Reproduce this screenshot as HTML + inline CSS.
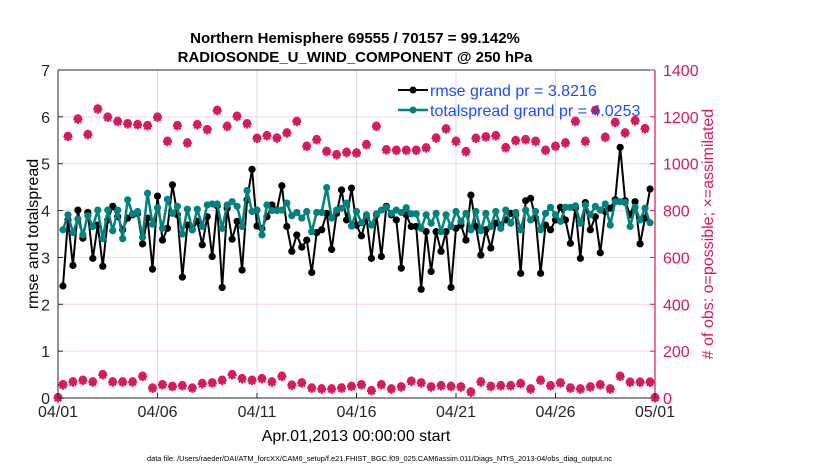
<!DOCTYPE html>
<html><head><meta charset="utf-8">
<style>
html,body{margin:0;padding:0;background:#fff;}
svg{display:block;font-family:"Liberation Sans",Arial,sans-serif;}
</style></head>
<body>
<svg id="chart" width="830" height="470" viewBox="0 0 830 470">
<rect x="0" y="0" width="830" height="470" fill="#fff"/>
<g id="grid"></g>
<g id="series"></g>
<g id="axes"></g>
<text x="355" y="43" text-anchor="middle" font-size="15" font-weight="bold">Northern Hemisphere 69555 / 70157 = 99.142%</text>
<text x="355" y="62" text-anchor="middle" font-size="15" font-weight="bold">RADIOSONDE_U_WIND_COMPONENT @ 250 hPa</text>
<text x="356" y="441" text-anchor="middle" font-size="16">Apr.01,2013 00:00:00 start</text>
<text x="147" y="461" font-size="7" textLength="465" lengthAdjust="spacingAndGlyphs">data file: /Users/raeder/DAI/ATM_forcXX/CAM6_setup/f.e21.FHIST_BGC.f09_025.CAM6assim.011/Diags_NTrS_2013-04/obs_diag_output.nc</text>
<text transform="translate(38,234) rotate(-90)" text-anchor="middle" font-size="16">rmse and totalspread</text>
<text transform="translate(713,234) rotate(-90)" text-anchor="middle" font-size="16" fill="#d6185c"># of obs: o=possible; ×=assimilated</text>
<g>
<line x1="398" y1="90" x2="428" y2="90" stroke="#000" stroke-width="2"/>
<circle cx="413" cy="90" r="3.5" fill="#000"/>
<text x="430" y="96" font-size="16" fill="#1a4dff">rmse grand pr = 3.8216</text>
<line x1="398" y1="110" x2="428" y2="110" stroke="#00827f" stroke-width="2.5"/>
<circle cx="413" cy="110" r="3.5" fill="#00827f"/>
<text x="430" y="116" font-size="16" fill="#1a4dff">totalspread grand pr = 4.0253</text>
</g>
</svg>
<script>
// ---- data ----
const xTickLabels = ["04/01","04/06","04/11","04/16","04/21","04/26","05/01"];
const xTickDays = [0,5,10,15,20,25,30];
const leftTicks = [0,1,2,3,4,5,6,7];
const rightTicks = [0,200,400,600,800,1000,1200,1400];
// 6-hourly values starting 04/01 06Z
const rmse = [2.39,3.80,2.83,4.01,3.41,3.96,2.98,3.69,2.81,3.80,4.09,3.87,3.59,3.84,3.91,3.94,3.29,3.84,2.75,4.31,
3.37,3.62,4.55,3.91,2.58,3.69,3.59,3.77,3.27,3.87,3.02,4.10,2.36,4.05,3.39,3.77,2.73,4.23,4.88,3.67,
3.62,3.87,4.12,4.01,4.53,3.66,3.13,3.48,3.22,3.37,2.68,3.53,3.59,3.94,3.17,3.94,4.44,3.80,4.48,3.69,
3.46,3.84,2.98,3.91,3.02,4.09,3.91,3.80,2.77,3.91,3.66,3.66,2.32,3.55,2.70,3.55,3.13,3.55,2.36,3.62,
3.69,3.37,4.33,3.66,3.05,3.59,3.20,3.73,3.69,3.80,3.94,3.91,2.66,4.21,4.26,3.84,2.66,3.69,3.59,3.80,
4.07,3.80,3.30,4.05,2.98,4.17,3.59,3.87,3.10,3.98,4.05,4.23,5.35,4.21,3.91,4.19,3.29,3.84,4.46];
const spread = [3.59,3.91,3.53,3.82,3.48,3.89,3.66,4.01,3.40,4.01,3.57,4.01,3.40,4.23,3.93,3.98,3.43,4.37,3.71,4.06,
3.62,4.24,3.94,4.09,3.50,4.03,3.59,4.03,3.66,4.12,4.14,4.14,3.62,4.12,4.19,4.09,3.66,4.43,3.98,4.01,
3.48,4.12,4.00,4.00,4.01,4.16,3.89,3.96,3.84,3.98,3.55,3.96,3.96,4.49,3.84,4.01,4.05,4.16,3.67,3.98,
3.74,3.91,3.69,3.93,4.01,4.07,3.94,4.01,3.96,4.06,3.93,3.93,3.62,3.91,3.73,3.94,3.55,3.91,3.66,3.98,
3.77,3.94,3.59,3.98,3.57,3.94,3.66,3.98,3.62,4.01,3.73,3.96,3.59,4.01,3.80,3.98,3.59,3.94,4.07,3.91,
3.77,4.07,4.07,4.10,3.73,4.12,3.91,4.09,4.01,4.14,3.69,4.19,4.19,4.17,3.66,4.07,3.80,4.05,3.74];
// 12-hourly obs counts starting 04/01 12Z
const obsTop = [1115,1189,1123,1232,1197,1179,1169,1165,1161,1197,1094,1161,1087,1165,1144,1226,1158,1201,1169,1107,
1118,1108,1130,1179,1073,1101,1051,1037,1047,1044,1080,1158,1058,1056,1056,1056,1066,1108,1147,1094,
1050,1107,1113,1118,1067,1097,1101,1094,1056,1073,1087,1179,1094,1226,1111,1175,1130,1182,1148];
// 12-hourly obs counts starting 04/01 06Z, plus zero endpoints
const obsBottom = [55,67,74,67,98,67,67,67,91,41,55,48,51,41,60,63,74,98,81,74,81,67,91,53,63,41,37,37,41,48,
55,30,55,37,46,70,63,46,51,48,46,24,67,48,51,51,60,37,74,51,63,41,37,46,55,37,91,66,66,66];

// ---- scales ----
const X0=58,X1=655,Y0=398,Y1=70;
const xs=d=>X0+(d/30)*(X1-X0);
const yl=v=>Y0-(v/7)*(Y0-Y1);
const yr=v=>Y0-(v/1400)*(Y0-Y1);
const NS="http://www.w3.org/2000/svg";
function mk(tag,attrs,parent){const e=document.createElementNS(NS,tag);for(const k in attrs)e.setAttribute(k,attrs[k]);parent.appendChild(e);return e;}
const grid=document.getElementById('grid'),ser=document.getElementById('series'),ax=document.getElementById('axes');
const PINK="#d6185c",TEAL="#00827f";

// grid
xTickDays.forEach((d,i)=>{
 const l=mk('line',{x1:xs(d),x2:xs(d),y1:Y1,y2:Y0,stroke:'#dcdcdc','stroke-width':1},grid);
 
 
});
leftTicks.forEach(v=>{
 const l=mk('line',{x1:X0,x2:X1,y1:yl(v),y2:yl(v),stroke:'#f6d3df','stroke-width':1},grid);
 
 
});

// obs counts (pink)
function pinkMark(cx,cy,name){
 const g=mk('g',{},ser);
 
 
 mk('circle',{cx:cx,cy:cy-1,r:3.4,fill:'none',stroke:PINK,'stroke-width':1.5},g);
 mk('path',{d:`M${cx-4.5},${cy}H${cx+4.5}M${cx},${cy-4.5}V${cy+4.5}M${cx-3.2},${cy-3.2}L${cx+3.2},${cy+3.2}M${cx-3.2},${cy+3.2}L${cx+3.2},${cy-3.2}`,stroke:PINK,'stroke-width':2.2},g);
}
obsTop.forEach((v,i)=>pinkMark(xs(0.5*(i+1)),yr(v),'obs-count-top'));
pinkMark(xs(0),yr(0),'obs-count-bottom');
obsBottom.forEach((v,i)=>pinkMark(xs(0.25+0.5*i),yr(v),'obs-count-bottom'));
pinkMark(xs(30),yr(0),'obs-count-bottom');

// lines
function drawSeries(vals,color,w,name){
 const pts=vals.map((v,i)=>[xs(0.25*(i+1)),yl(v)]);
 const p=mk('polyline',{points:pts.map(p=>p.join(',')).join(' '),fill:'none',stroke:color,'stroke-width':w,'stroke-linejoin':'round'},ser);
 
 
 pts.forEach(q=>{
  const c=mk('circle',{cx:q[0],cy:q[1],r:3.6,fill:color},ser);
  
  
 });
}
drawSeries(rmse,'#000',2,'rmse');
drawSeries(spread,TEAL,2.5,'totalspread');

// axes
let a=mk('line',{x1:X0,x2:X0,y1:Y1,y2:Y0,stroke:'#262626','stroke-width':1},ax);


a=mk('line',{x1:X0,x2:X1,y1:Y0,y2:Y0,stroke:'#262626','stroke-width':1},ax);


a=mk('line',{x1:X0,x2:X1,y1:Y1,y2:Y1,stroke:'#262626','stroke-width':1},ax);


a=mk('line',{x1:X1,x2:X1,y1:Y1,y2:Y0,stroke:PINK,'stroke-width':1.2},ax);


leftTicks.forEach(v=>{
 mk('line',{x1:X0,x2:X0+5,y1:yl(v),y2:yl(v),stroke:'#262626'},ax);
 const t=mk('text',{x:X0-8,y:yl(v)+6,'text-anchor':'end','font-size':16,fill:'#262626'},ax);
 t.textContent=v;
 
 
});
rightTicks.forEach(v=>{
 mk('line',{x1:X1-5,x2:X1,y1:yr(v),y2:yr(v),stroke:PINK},ax);
 const t=mk('text',{x:X1+8,y:yr(v)+6,'font-size':16,fill:PINK},ax);
 t.textContent=v;
 
 
});
xTickDays.forEach((d,i)=>{
 mk('line',{x1:xs(d),x2:xs(d),y1:Y0,y2:Y0-5,stroke:'#262626'},ax);
 const t=mk('text',{x:xs(d),y:Y0+19,'text-anchor':'middle','font-size':16,fill:'#262626'},ax);
 t.textContent=xTickLabels[i];
 
 
});
</script>
</body></html>
